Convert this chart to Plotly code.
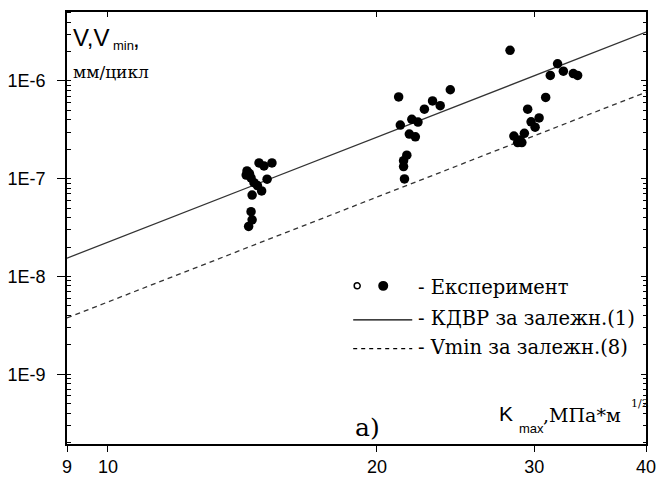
import plotly.graph_objects as go

# ---------------- data ----------------
k_exp = [14.31, 14.28, 14.40, 14.46, 14.57, 14.70, 14.76, 14.95, 15.26, 15.07, 14.86, 14.50, 14.46, 14.50, 14.37,
         21.15, 21.24, 21.42, 21.42, 21.47, 21.60, 21.74, 21.88, 22.08, 22.23, 22.60, 23.08, 23.54, 24.16,
         28.18, 28.46, 28.74, 28.92, 29.05, 29.24, 29.49, 29.75, 30.06, 30.37, 30.89, 31.26, 31.85, 32.33, 33.17, 33.54]
v_exp = [1.20e-7, 1.09e-7, 1.13e-7, 1.02e-7, 9.1e-8, 8.5e-8, 1.45e-7, 1.35e-7, 1.45e-7, 9.9e-8, 7.5e-8, 6.8e-8, 4.6e-8, 3.8e-8, 3.25e-8,
         6.87e-7, 3.54e-7, 1.53e-7, 1.33e-7, 9.95e-8, 1.74e-7, 2.86e-7, 4.05e-7, 2.68e-7, 3.80e-7, 5.15e-7, 6.25e-7, 5.59e-7, 8.13e-7,
         2.06e-6, 2.73e-7, 2.34e-7, 2.49e-7, 2.34e-7, 2.91e-7, 5.15e-7, 3.82e-7, 3.37e-7, 4.19e-7, 6.79e-7, 1.14e-6, 1.50e-6, 1.26e-6, 1.19e-6, 1.14e-6]

k_line = [9, 40]
v_kdvr = [1.54e-8, 3.16e-6]
v_min = [3.77e-9, 7.67e-7]

x_ticks = [9, 10, 20, 30, 40]
x_ticktext = ["9", "10", "20", "30", "40"]
y_ticks = [1e-9, 1e-8, 1e-7, 1e-6]
y_ticktext = ["1E-9", "1E-8", "1E-7", "1E-6"]

# ---------------- layout geometry (pixels) ----------------
W, H = 659, 477
L, R, T, B = 67, 645.6, 11.5, 444.5
pw, ph = R - L, B - T


def px(x):
    return (x - L) / pw


def py(y):
    return (B - y) / ph


fig = go.Figure()

fig.add_trace(go.Scatter(x=k_line, y=v_kdvr, mode="lines",
                         line=dict(color="#333333", width=1.3), hoverinfo="skip", showlegend=False))
fig.add_trace(go.Scatter(x=k_line, y=v_min, mode="lines",
                         line=dict(color="#333333", width=1.3, dash="5px,4px"), hoverinfo="skip", showlegend=False))
fig.add_trace(go.Scatter(x=k_exp, y=v_exp, mode="markers",
                         marker=dict(color="black", size=9.5, line=dict(width=0)), showlegend=False))
# invisible trace to activate mirrored axes
fig.add_trace(go.Scatter(x=[10], y=[1e-7], xaxis="x2", yaxis="y2", mode="markers",
                         marker=dict(opacity=0), hoverinfo="skip", showlegend=False))

xr = [0.954243, 1.60206]
yr = [-9.7136, -5.2946]

sans = "Liberation Sans"
serif = "DejaVu Serif"

fig.update_layout(
    width=W, height=H,
    margin=dict(l=L, r=W - R, t=T, b=H - B),
    paper_bgcolor="white", plot_bgcolor="white",
    font=dict(family=sans, size=18, color="black"),
    xaxis=dict(type="log", range=xr, tickvals=x_ticks, ticktext=x_ticktext,
               ticks="outside", ticklen=6, tickwidth=1.3, tickcolor="black",
               showline=True, linecolor="black", linewidth=1.6, showgrid=False, zeroline=False,
               tickfont=dict(family=sans, size=18), ticklabelstandoff=0, automargin=False),
    yaxis=dict(type="log", range=yr, tickvals=y_ticks, ticktext=y_ticktext,
               ticks="outside", ticklen=8, tickwidth=1.3, tickcolor="black",
               showline=True, linecolor="black", linewidth=1.6, showgrid=False, zeroline=False,
               tickfont=dict(family=sans, size=18), ticklabelstandoff=8, automargin=False,
               minor=dict(ticks="inside", ticklen=4, tickwidth=1, tickcolor="black",
                          dtick="D1", showgrid=False)),
    xaxis2=dict(type="log", range=xr, overlaying="x", side="top", anchor="y",
                tickvals=x_ticks, showticklabels=False, ticks="inside", ticklen=5,
                tickcolor="black", showline=True, linecolor="black", linewidth=1.6,
                showgrid=False, zeroline=False, automargin=False),
    yaxis2=dict(type="log", range=yr, overlaying="y", side="right", anchor="x",
                tickvals=y_ticks, showticklabels=False, ticks="inside", ticklen=5,
                tickcolor="black", showline=True, linecolor="black", linewidth=1.6,
                showgrid=False, zeroline=False, automargin=False,
                minor=dict(ticks="inside", ticklen=3, tickwidth=1, tickcolor="black",
                           dtick="D1", showgrid=False)),
    showlegend=False,
)


def ann(x, y, text, family, size, xanchor="left"):
    return dict(x=px(x), y=py(y), xref="paper", yref="paper", xanchor=xanchor, yanchor="middle",
                text=text, showarrow=False, font=dict(family=family, size=size))


annotations = [
    # y-axis title
    ann(71, 37, "V,V", sans, 24),
    ann(111, 45, "min", sans, 13),
    ann(131, 38, ",", sans, 24),
    ann(71, 72, "мм/цикл", serif, 17),
    # x-axis title
    ann(497, 414, "K", sans, 21),
    ann(517, 429, "max", sans, 13),
    ann(541, 415, ",МПа*м", serif, 19),
    ann(629, 404, "1/2", serif, 11),
    # panel label
    ann(367, 428, "a)", serif, 25, "center"),
    # legend text
    ann(416, 288, "- Експеримент", serif, 19.5),
    ann(416, 319, "- КДВР за залежн.(1)", serif, 19.5),
    ann(416, 348, "- Vmin за залежн.(8)", serif, 19.5),
]
fig.update_layout(annotations=annotations)

shapes = [
    # legend symbols
    dict(type="circle", xref="paper", yref="paper",
         x0=px(354), x1=px(360), y0=py(283), y1=py(289),
         line=dict(color="black", width=1.5), fillcolor="white"),
    dict(type="circle", xref="paper", yref="paper",
         x0=px(378), x1=px(388), y0=py(281), y1=py(291),
         line=dict(color="black", width=0), fillcolor="black"),
    dict(type="line", xref="paper", yref="paper",
         x0=px(353), x1=px(412), y0=py(320), y1=py(320),
         line=dict(color="black", width=1.2)),
    dict(type="line", xref="paper", yref="paper",
         x0=px(353), x1=px(412), y0=py(349), y1=py(349),
         line=dict(color="black", width=1.2, dash="4px,4px")),
]
fig.update_layout(shapes=shapes)

fig.write_html("out.html")
